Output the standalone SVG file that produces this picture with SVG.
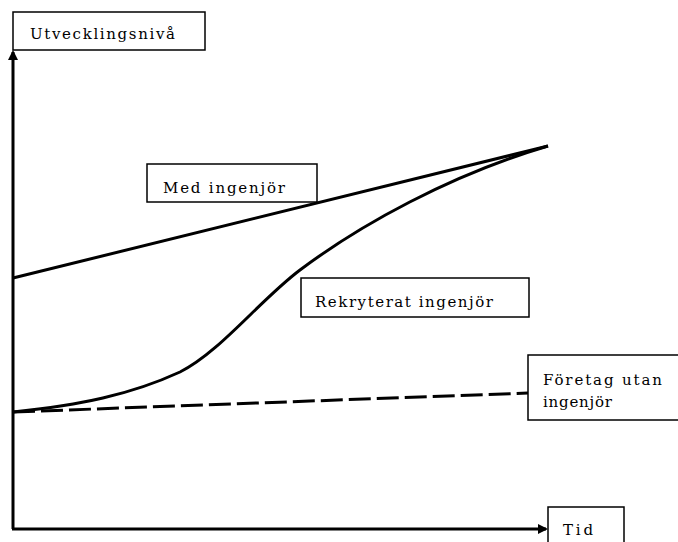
<svg xmlns="http://www.w3.org/2000/svg" width="678" height="542" viewBox="0 0 678 542">
<style>
.box{fill:#fff;stroke:#000;stroke-width:1.5}
.t{font-family:"DejaVu Serif","Liberation Serif",serif;font-size:15px;fill:#000}
.ln{fill:none;stroke:#000;stroke-width:3}
</style>
<defs>
<marker id="ah" markerWidth="10" markerHeight="10" refX="8" refY="5" orient="auto" markerUnits="userSpaceOnUse">
<path d="M0,0 L10,5 L0,10 Z" fill="#000"/>
</marker>
</defs>
<rect width="678" height="542" fill="#fff"/>
<g id="connectors">
<path class="ln" d="M13,529 L13,52" marker-end="url(#ah)"/>
<path class="ln" d="M12,529 L546,529" marker-end="url(#ah)"/>
<path class="ln" d="M13,278 L548,146"/>
<path class="ln" d="M13,412 L528,393" stroke-dasharray="22,6"/>
<path class="ln" d="M13,412 C80,405 130,395 180,372 C220,352 260,300 300,270 C360,225 450,175 548,146"/>
</g>
<g id="y-label">
<rect class="box" x="13" y="12" width="192" height="38"/>
<text class="t" x="30" y="39" textLength="145" lengthAdjust="spacing">Utvecklingsnivå</text>
</g>
<g id="med">
<rect class="box" x="147" y="164" width="170" height="38"/>
<text class="t" x="163" y="193" textLength="122" lengthAdjust="spacing">Med ingenjör</text>
</g>
<g id="rekryterat">
<rect class="box" x="301" y="278" width="228" height="39"/>
<text class="t" x="315" y="307" textLength="178" lengthAdjust="spacing">Rekryterat ingenjör</text>
</g>
<g id="foretag">
<rect class="box" x="528" y="355" width="152" height="65"/>
<text class="t" x="543" y="385" textLength="119" lengthAdjust="spacing">Företag utan</text>
<text class="t" x="543" y="407" textLength="69" lengthAdjust="spacing">ingenjör</text>
</g>
<g id="tid">
<rect class="box" x="548" y="507" width="76" height="40"/>
<text class="t" x="563" y="535" textLength="30" lengthAdjust="spacing">Tid</text>
</g>
</svg>
